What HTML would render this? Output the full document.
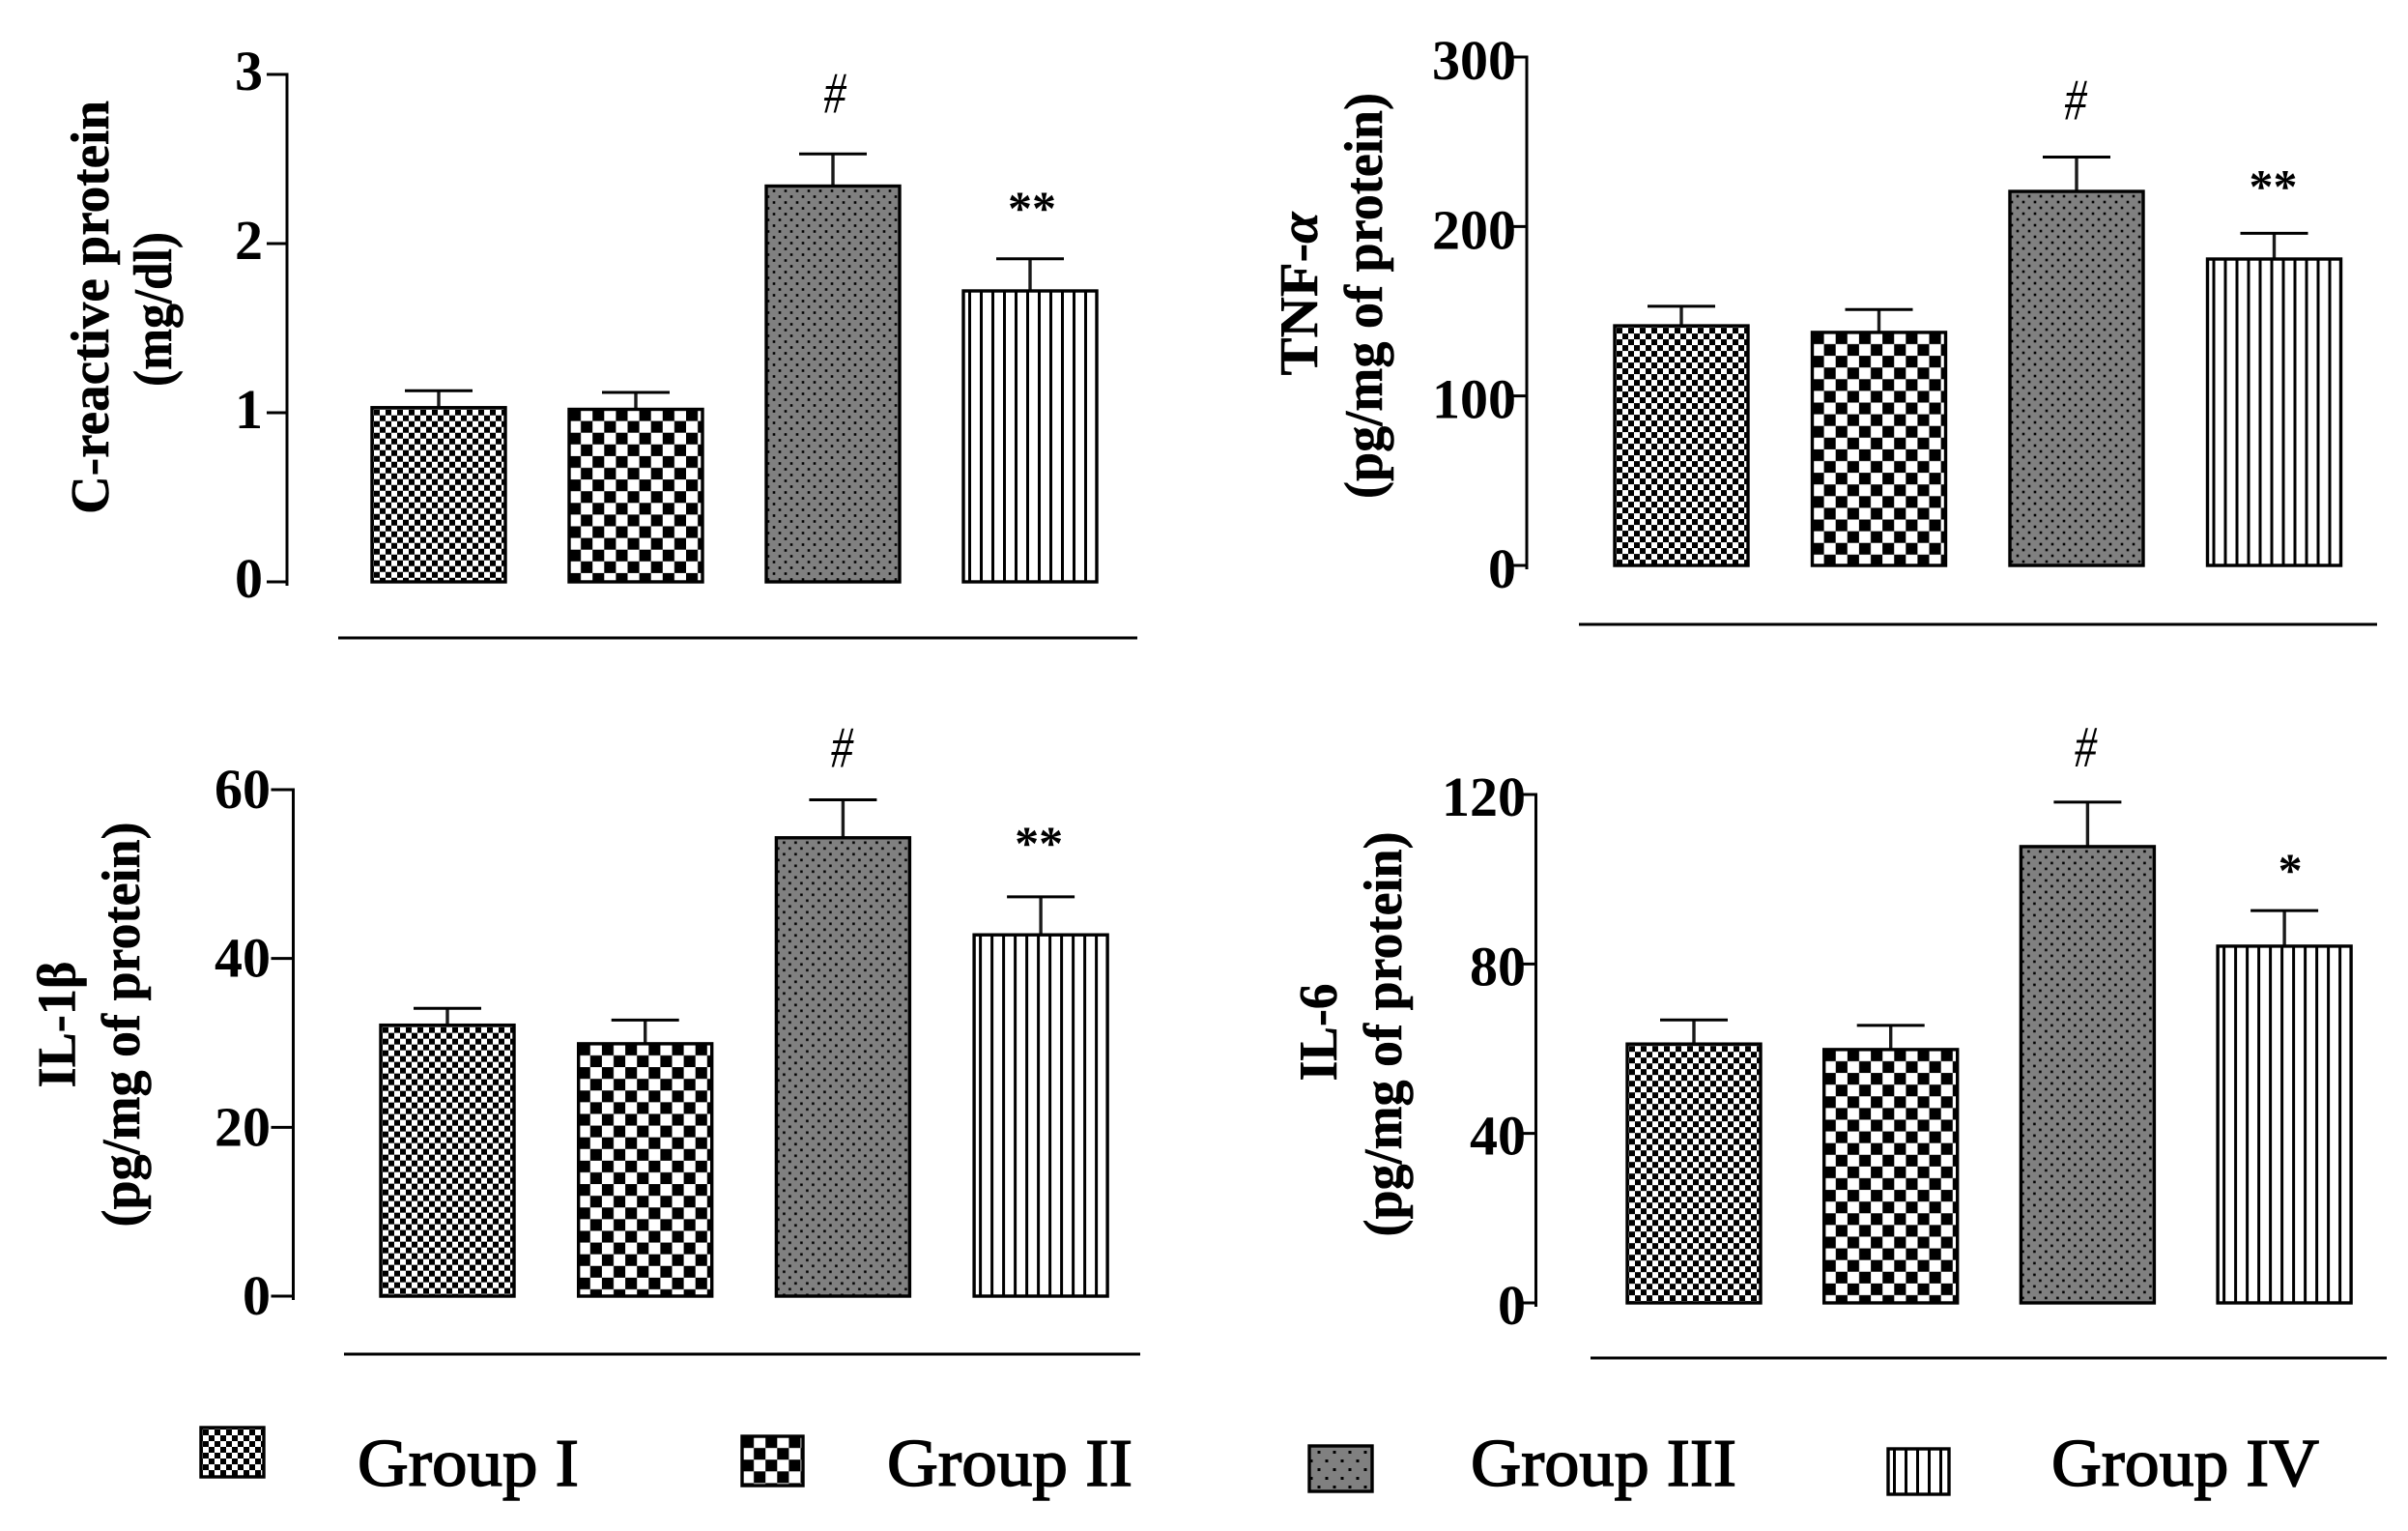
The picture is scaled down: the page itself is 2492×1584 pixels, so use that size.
<!DOCTYPE html>
<html lang="en">
<head>
<meta charset="utf-8">
<title>Inflammatory markers by group</title>
<style>
html,body{margin:0;padding:0;background:#fff;}
svg{display:block;}
text{font-family:"Liberation Serif","DejaVu Serif",serif;fill:#000;}
</style>
</head>
<body>
<svg id="figure" xmlns="http://www.w3.org/2000/svg" width="2492" height="1584" viewBox="0 0 2492 1584">
<rect width="2492" height="1584" fill="#fff"/>
<defs id="patterns"></defs>
</svg>
<script>
/* ---------- data ---------- */
const categories = ['Group I', 'Group II', 'Group III', 'Group IV'];

const crpMeans = [1.03, 1.02, 2.34, 1.72];
const crpErrors = [0.10, 0.10, 0.19, 0.19];
const crpTicks = [0, 1, 2, 3];
const crpMarks = ['', '', '#', '**'];

const tnfMeans = [141.4, 137.5, 220.7, 180.8];
const tnfErrors = [11.5, 13.5, 20.3, 15.2];
const tnfTicks = [0, 100, 200, 300];
const tnfMarks = ['', '', '#', '**'];

const il1Means = [32.1, 29.9, 54.3, 42.8];
const il1Errors = [2.0, 2.8, 4.5, 4.5];
const il1Ticks = [0, 20, 40, 60];
const il1Marks = ['', '', '#', '**'];

const il6Means = [61.1, 59.8, 107.7, 84.2];
const il6Errors = [5.7, 5.7, 10.5, 8.4];
const il6Ticks = [0, 40, 80, 120];
const il6Marks = ['', '', '#', '*'];

/* ---------- layout ---------- */
const panels = [
  {key:'crp', means:crpMeans, errors:crpErrors, ticks:crpTicks, marks:crpMarks,
   axisX:297, y0:602, yTop:77, axisEnd:606, tickLen:21, labelRight:272, labelDy:16,
   barLeft:385, barStep:204,
   markGap:[0,0,62,55], markDx:[0,0,2,2],
   title:{text:'C-reactive protein', italic:'', x:112, cy:318, len:428},
   unit:{text:'(mg/dl)', x:177, cy:320, len:160},
   rule:{x1:350, x2:1177, y:660}},
  {key:'tnf', means:tnfMeans, errors:tnfErrors, ticks:tnfTicks, marks:tnfMarks,
   axisX:1580, y0:585, yTop:59, axisEnd:589, tickLen:19, labelRight:1569, labelDy:23,
   barLeft:1671, barStep:204.5,
   markGap:[0,0,58,51], markDx:[0,0,-1,-1],
   title:{text:'TNF-', italic:'α', x:1363, cy:304, len:169},
   unit:{text:'(pg/mg of protein)', x:1430, cy:306, len:420},
   rule:{x1:1634, x2:2460, y:646}},
  {key:'il1', means:il1Means, errors:il1Errors, ticks:il1Ticks, marks:il1Marks,
   axisX:303.5, y0:1341, yTop:817, axisEnd:1345, tickLen:23, labelRight:280, labelDy:19,
   barLeft:394, barStep:204.7,
   markGap:[0,0,53,58], markDx:[0,0,-1,-2],
   title:{text:'IL-1β', italic:'', x:77.5, cy:1060, len:131},
   unit:{text:'(pg/mg of protein)', x:144, cy:1060, len:419},
   rule:{x1:356, x2:1180, y:1401}},
  {key:'il6', means:il6Means, errors:il6Errors, ticks:il6Ticks, marks:il6Marks,
   axisX:1589.5, y0:1348, yTop:822, axisEnd:1352, tickLen:17, labelRight:1579, labelDy:22,
   barLeft:1684, barStep:203.7,
   markGap:[0,0,56,44], markDx:[0,0,-2,6],
   title:{text:'IL-6', italic:'', x:1383, cy:1068, len:101},
   unit:{text:'(pg/mg of protein)', x:1450, cy:1070, len:419},
   rule:{x1:1646, x2:2470, y:1405}}
];
const barWidth = 138;
const legendSwatches = [
  {x:208, y:1477, w:65, h:51, tx:370, tlen:229},
  {x:768, y:1486, w:63, h:51, tx:918, tlen:254},
  {x:1355, y:1496, w:65, h:47, tx:1522, tlen:275},
  {x:1954, y:1499, w:63, h:47, tx:2123, tlen:277}
];
const legendBaseline = 1537;

/* ---------- helpers ---------- */
const NS = 'http://www.w3.org/2000/svg';
const svg = document.getElementById('figure');
const defs = document.getElementById('patterns');
let patternCount = 0;

function make(tag, attrs, parent) {
  const el = document.createElementNS(NS, tag);
  for (const k in attrs) el.setAttribute(k, attrs[k]);
  (parent || svg).appendChild(el);
  return el;
}

function checkerPattern(id, x, y, cell) {
  const p = make('pattern', {id:id, patternUnits:'userSpaceOnUse', x:x, y:y, width:cell*2, height:cell*2}, defs);
  make('rect', {x:0, y:0, width:cell*2, height:cell*2, fill:'#fff'}, p);
  make('rect', {x:0, y:0, width:cell, height:cell, fill:'#000'}, p);
  make('rect', {x:cell, y:cell, width:cell, height:cell, fill:'#000'}, p);
}
function dotPattern(id, x, y, px, py, r) {
  const p = make('pattern', {id:id, patternUnits:'userSpaceOnUse', x:x, y:y, width:px, height:py*2}, defs);
  make('rect', {x:0, y:0, width:px, height:py*2, fill:'#808080'}, p);
  make('rect', {x:px*0.5-r, y:py*0.5-r, width:r*2, height:r*2, fill:'#000'}, p);
  make('rect', {x:-r, y:py*1.5-r, width:r*2, height:r*2, fill:'#000'}, p);
  make('rect', {x:px-r, y:py*1.5-r, width:r*2, height:r*2, fill:'#000'}, p);
}
function stripePattern(id, x, y, period, w) {
  const p = make('pattern', {id:id, patternUnits:'userSpaceOnUse', x:x, y:y, width:period, height:period}, defs);
  make('rect', {x:0, y:0, width:period, height:period, fill:'#fff'}, p);
  make('rect', {x:5, y:0, width:w, height:period, fill:'#000'}, p);
}
function fillFor(groupIndex, x, y, legend) {
  const id = 'fill-' + (patternCount++);
  if (groupIndex === 0) checkerPattern(id, x + 2, y + 2, 6);
  else if (groupIndex === 1) checkerPattern(id, x, y, 12.1);
  else if (groupIndex === 2) { if (legend) dotPattern(id, x + 2, y + 2, 16, 9, 1.5); else dotPattern(id, x + 2, y + 2, 12, 6, 1.3); }
  else stripePattern(id, x, y, 12, 3);
  return 'url(#' + id + ')';
}

/* ---------- panels ---------- */
panels.forEach(function (pn) {
  const tickMax = pn.ticks[pn.ticks.length - 1];
  const yScale = function (v) { return pn.y0 - (v / tickMax) * (pn.y0 - pn.yTop); };
  const xScale = function (i) { return pn.barLeft + i * pn.barStep; };

  const g = make('g', {});
  
  

  const axis = make('line', {x1:pn.axisX, x2:pn.axisX, y1:pn.yTop - 1.5, y2:pn.axisEnd, stroke:'#000', 'stroke-width':3}, g);
  
  

  pn.ticks.forEach(function (t) {
    const ty = yScale(t);
    const tick = make('line', {x1:pn.axisX - pn.tickLen, x2:pn.axisX, y1:ty, y2:ty, stroke:'#000', 'stroke-width':3}, g);
    
    
    const str = String(t);
    const lab = make('text', {x:pn.labelRight, y:ty + pn.labelDy, 'text-anchor':'end', 'font-size':58, 'font-weight':'bold', textLength:str.length * 29, lengthAdjust:'spacingAndGlyphs'}, g);
    lab.textContent = str;
    
    
  });

  pn.means.forEach(function (m, i) {
    const bx = xScale(i), top = yScale(m), bottom = yScale(0);
    const cx = bx + barWidth / 2, errY = yScale(m + pn.errors[i]);

    const stem = make('line', {x1:cx, x2:cx, y1:errY, y2:top, stroke:'#1a1a1a', 'stroke-width':3.4}, g);
    
    
    const cap = make('line', {x1:cx - 35, x2:cx + 35, y1:errY, y2:errY, stroke:'#000', 'stroke-width':3}, g);
    
    

    const bar = make('rect', {x:bx, y:top, width:barWidth, height:bottom - top, fill:fillFor(i, bx, top, false), stroke:'#000', 'stroke-width':3.4}, g);
    
    

    if (pn.marks[i]) {
      const isHash = pn.marks[i] === '#';
      const mark = make('text', {x:cx + pn.markDx[i], y:errY - pn.markGap[i] + (isHash ? 19 : 19), 'text-anchor':'middle', 'font-size':isHash ? 60 : 50, 'font-weight':isHash ? 'normal' : 'bold'}, g);
      mark.textContent = pn.marks[i];
      
      
      if (isHash) {
        mark.setAttribute('font-style', 'italic');
        mark.setAttribute('textLength', '23');
        mark.setAttribute('lengthAdjust', 'spacingAndGlyphs');
      }
    }
  });

  const t1 = make('text', {transform:'translate(' + pn.title.x + ',' + pn.title.cy + ') rotate(-90)', 'text-anchor':'middle', 'font-size':56, 'font-weight':'bold', stroke:'#000', 'stroke-width':0.5, textLength:pn.title.len, lengthAdjust:'spacingAndGlyphs'}, g);
  t1.textContent = pn.title.text;
  if (pn.title.italic) {
    const it = make('tspan', {'font-style':'italic'}, t1);
    it.textContent = pn.title.italic;
  }
  
  

  const t2 = make('text', {transform:'translate(' + pn.unit.x + ',' + pn.unit.cy + ') rotate(-90)', 'text-anchor':'middle', 'font-size':56, 'font-weight':'bold', stroke:'#000', 'stroke-width':0.5, textLength:pn.unit.len, lengthAdjust:'spacingAndGlyphs'}, g);
  t2.textContent = pn.unit.text;
  
  

  const rule = make('line', {x1:pn.rule.x1, x2:pn.rule.x2, y1:pn.rule.y, y2:pn.rule.y, stroke:'#000', 'stroke-width':3}, g);
  
  
});

/* ---------- legend ---------- */
const legend = make('g', {});


categories.forEach(function (name, i) {
  const s = legendSwatches[i];
  const sw = make('rect', {x:s.x, y:s.y, width:s.w, height:s.h, fill:fillFor(i, s.x, s.y, true), stroke:'#000', 'stroke-width':3.4}, legend);
  
  
  const tx = make('text', {x:s.tx, y:legendBaseline, 'font-size':70, textLength:s.tlen, lengthAdjust:'spacingAndGlyphs', stroke:'#000', 'stroke-width':1.5}, legend);
  tx.textContent = name;
  
  
});
</script>
</body>
</html>
